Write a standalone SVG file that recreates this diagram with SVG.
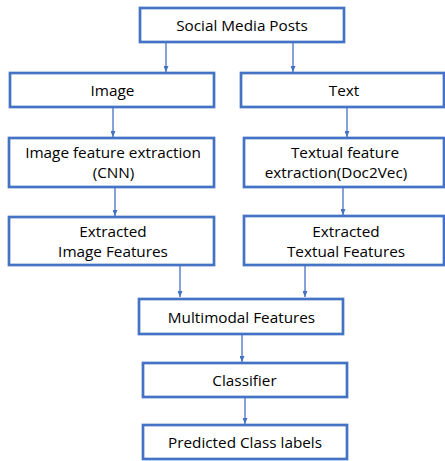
<svg xmlns="http://www.w3.org/2000/svg" width="445" height="461" viewBox="0 0 445 461">
<defs>
<marker id="ah" markerWidth="6" markerHeight="5" refX="6" refY="2.5" orient="auto" markerUnits="userSpaceOnUse">
<path d="M0,0 L6,2.5 L0,5 Z" fill="#4472C4"/>
</marker>
<style>
.box{fill:#fff;stroke:#4472C4;stroke-width:2.7}
.t{font-family:"Open Sans","Liberation Sans",sans-serif;font-size:15.3px;fill:#000;text-anchor:middle}
.c{stroke:#4472C4;stroke-width:1.3;fill:none;marker-end:url(#ah)}
</style>
</defs>
<rect width="445" height="461" fill="#fff"/>
<g id="connectors">
<line class="c" x1="166" y1="42" x2="166" y2="72"/>
<line class="c" x1="293" y1="42" x2="293" y2="72"/>
<line class="c" x1="113" y1="107" x2="113" y2="137"/>
<line class="c" x1="347" y1="107" x2="347" y2="137"/>
<line class="c" x1="115" y1="187" x2="115" y2="216"/>
<line class="c" x1="343" y1="187" x2="343" y2="215"/>
<line class="c" x1="180" y1="265" x2="180" y2="297"/>
<line class="c" x1="305" y1="265" x2="305" y2="297"/>
<line class="c" x1="242" y1="334" x2="242" y2="362"/>
<line class="c" x1="245" y1="397" x2="245" y2="424"/>
</g>
<g id="social">
<rect class="box" x="140" y="8" width="204" height="34"/>
<text class="t" x="242" y="30.5">Social Media Posts</text>
</g>
<g id="image">
<rect class="box" x="10" y="73" width="204" height="34"/>
<text class="t" x="112.5" y="96">Image</text>
</g>
<g id="text">
<rect class="box" x="241" y="73" width="203" height="34"/>
<text class="t" x="344" y="96">Text</text>
</g>
<g id="imgfeat">
<rect class="box" x="9" y="138" width="205" height="49"/>
<text class="t" x="113" y="158">Image feature extraction</text>
<text class="t" x="113.5" y="178">(CNN)</text>
</g>
<g id="txtfeat">
<rect class="box" x="244" y="138" width="200" height="49"/>
<text class="t" x="345" y="158">Textual feature</text>
<text class="t" x="336" y="178">extraction(Doc2Vec)</text>
</g>
<g id="extimg">
<rect class="box" x="9" y="217" width="205" height="48"/>
<text class="t" x="113" y="237">Extracted</text>
<text class="t" x="113" y="257">Image Features</text>
</g>
<g id="exttxt">
<rect class="box" x="244" y="216" width="200" height="49"/>
<text class="t" x="346" y="237">Extracted</text>
<text class="t" x="346" y="257">Textual Features</text>
</g>
<g id="multi">
<rect class="box" x="139" y="299" width="204" height="35"/>
<text class="t" x="241.5" y="322.5">Multimodal Features</text>
</g>
<g id="classifier">
<rect class="box" x="143" y="363" width="204" height="34"/>
<text class="t" x="244.5" y="385.5">Classifier</text>
</g>
<g id="predicted">
<rect class="box" x="143" y="425" width="204" height="34"/>
<text class="t" x="245" y="448">Predicted Class labels</text>
</g>
</svg>
